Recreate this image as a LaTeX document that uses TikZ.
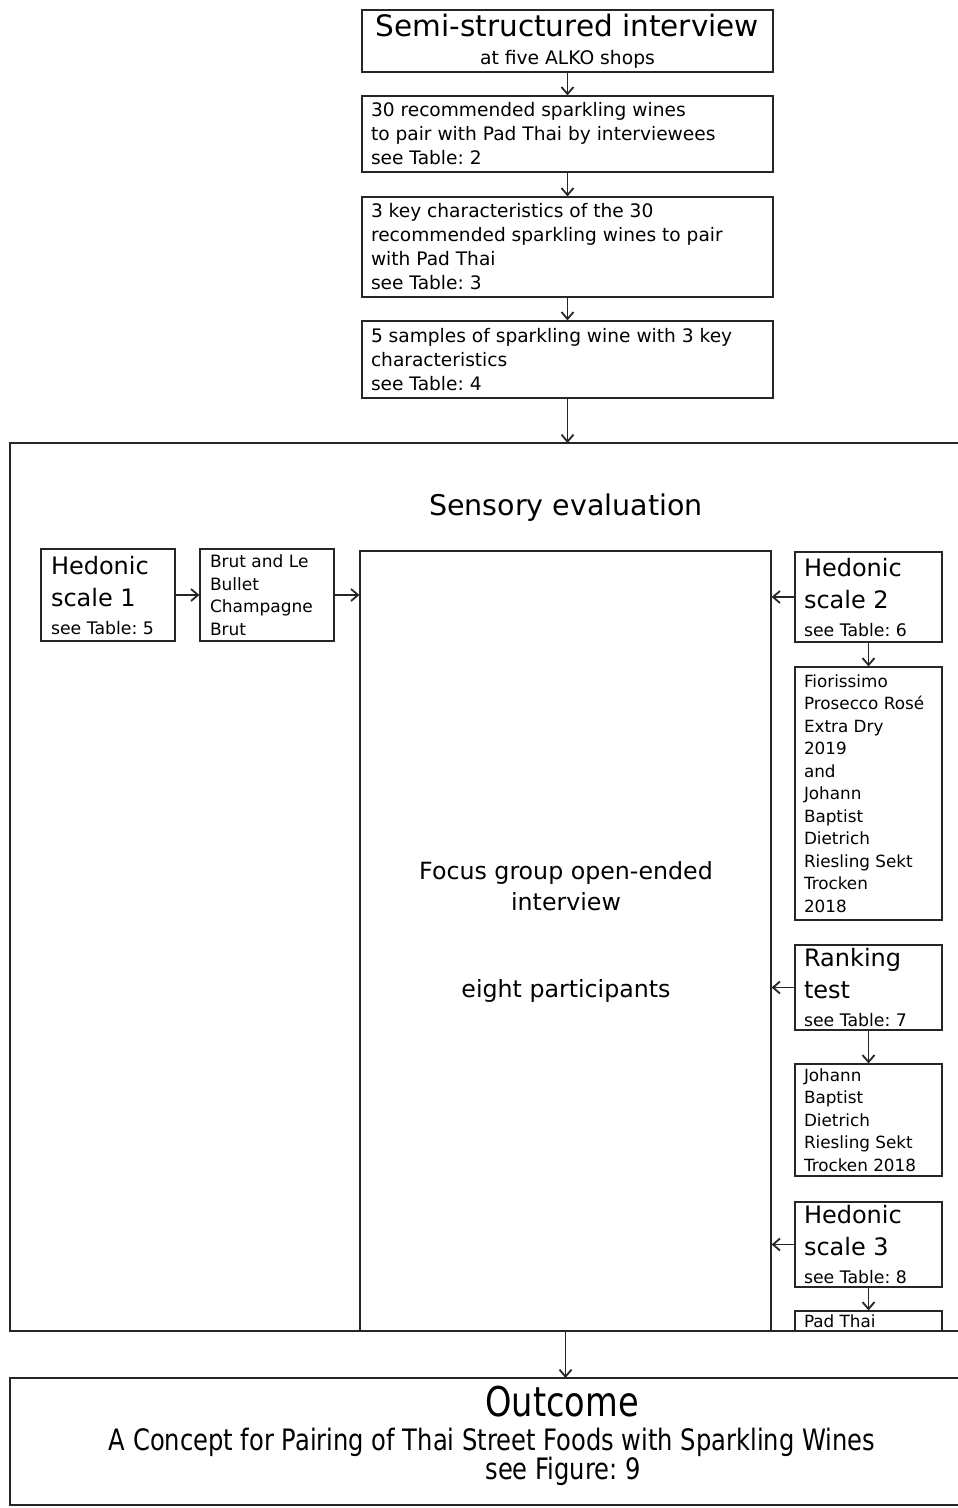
\documentclass[tikz,border=0pt]{standalone}
\usepackage{fontspec}
\setmainfont{DejaVu Sans}
\newfontfamily\condfont[FakeStretch=0.82]{DejaVu Sans}
\usetikzlibrary{arrows.meta}
\frenchspacing

\begin{document}
\begin{tikzpicture}[x=1pt,y=-1pt,>={Straight Barb[length=7pt,width=12pt]},
  frame/.style={draw=black!85,line width=1.3pt},
  conn/.style={->,draw=black!85,line width=1.8pt},
  box/.style={draw=black!85,line width=1.2pt,rectangle,inner xsep=9pt,inner ysep=2pt,align=flush left},
  topbox/.style={box,minimum width=411pt,text width=393pt,font=\fontsize{18.6}{24}\selectfont},
  sidebox/.style={box,minimum width=147pt,text width=129pt,font=\fontsize{16.8}{22.5}\selectfont},
  leftbox/.style={box,minimum width=134pt,text width=114pt,font=\fontsize{17}{22.5}\selectfont},
  method/.style={font=\fontsize{24}{32}\selectfont},
  label/.style={inner sep=0pt,align=center}]
\useasboundingbox (0,0) rectangle (958,1508);

% main sequence
\node[box,align=center,minimum width=411pt,minimum height=62pt,inner ysep=0pt,font=\fontsize{18.7}{24}\selectfont] (intv) at (567.5,41)
  {{\fontsize{29.5}{34}\selectfont Semi-structured interview}\\[4pt]at five ALKO shops};
\node[topbox,minimum height=76pt] (recs) at (567.5,134)
  {30 recommended sparkling wines\\to pair with Pad Thai by interviewees\\see Table: 2};
\node[topbox,minimum height=100pt] (keys) at (567.5,247)
  {3 key characteristics of the 30\\recommended sparkling wines to pair\\with Pad Thai\\see Table: 3};
\node[topbox,minimum height=77pt] (samples) at (567.5,359.5)
  {5 samples of sparkling wine with 3 key\\characteristics\\see Table: 4};

% sensory evaluation
\draw[frame] (958,443) -- (10,443) -- (10,1331) -- (958,1331);
\coordinate (senstop) at (567.5,443);
\node[label,font=\fontsize{28.5}{34}\selectfont] (senstitle) at (566,508) {Sensory evaluation};

\node[box,minimum width=411pt,minimum height=780pt] (focus) at (565.5,941) {};
\node[label,font=\fontsize{23.7}{31}\selectfont] (focustxt) at (566,886.5) {Focus group open-ended\\interview};
\node[label,font=\fontsize{23.7}{31}\selectfont] (eight) at (566,991) {eight participants};

\node[leftbox,method,minimum height=92pt] (hed1) at (108,595)
  {Hedonic\\scale 1\\[-4pt]{\fontsize{17.3}{22}\selectfont see Table: 5}};
\node[leftbox,minimum height=92pt] (brut) at (267,595)
  {Brut and Le\\Bullet\\Champagne\\Brut};

\node[sidebox,method,minimum height=90pt] (hed2) at (868.5,597)
  {Hedonic\\scale 2\\[-4pt]{\fontsize{17.3}{22}\selectfont see Table: 6}};
\node[sidebox,minimum height=253pt] (fior) at (868.5,793.5)
  {Fiorissimo\\Prosecco Rosé\\Extra Dry\\2019\\and\\Johann\\Baptist\\Dietrich\\Riesling Sekt\\Trocken\\2018};
\node[sidebox,method,minimum height=85pt] (rank) at (868.5,987.5)
  {Ranking\\test\\[-4pt]{\fontsize{17.3}{22}\selectfont see Table: 7}};
\node[sidebox,minimum height=112pt] (johann) at (868.5,1120)
  {Johann\\Baptist\\Dietrich\\Riesling Sekt\\Trocken 2018};
\node[sidebox,method,minimum height=85pt] (hed3) at (868.5,1244.5)
  {Hedonic\\scale 3\\[-4pt]{\fontsize{17.3}{22}\selectfont see Table: 8}};
\node[sidebox,minimum height=20pt,inner ysep=0pt] (padthai) at (868.5,1321) {Pad Thai};

% outcome
\draw[frame] (958,1378) -- (10,1378) -- (10,1505) -- (958,1505);
\coordinate (outtop) at (565.5,1378);
\node[label,font=\condfont\fontsize{41}{44}\selectfont] (outtitle) at (562,1402) {Outcome};
\node[label,font=\condfont\fontsize{29.5}{32}\selectfont] (concept) at (492,1442) {A Concept for Pairing of Thai Street Foods with Sparkling Wines};
\node[label,font=\condfont\fontsize{29.5}{32}\selectfont] (figref) at (563,1471) {see Figure: 9};

% connectors
\draw[conn] (intv) -- (recs);
\draw[conn] (recs) -- (keys);
\draw[conn] (keys) -- (samples);
\draw[conn] (samples) -- (senstop);
\draw[conn] (hed1) -- (brut);
\draw[conn] (brut.east) -- (brut.east -| focus.west);
\draw[conn] (hed2.west) -- (hed2.west -| focus.east);
\draw[conn] (hed2) -- (fior);
\draw[conn] (rank.west) -- (rank.west -| focus.east);
\draw[conn] (rank) -- (johann);
\draw[conn] (hed3.west) -- (hed3.west -| focus.east);
\draw[conn] (hed3) -- (padthai);
\draw[conn] (focus) -- (outtop);
\end{tikzpicture}
\end{document}
